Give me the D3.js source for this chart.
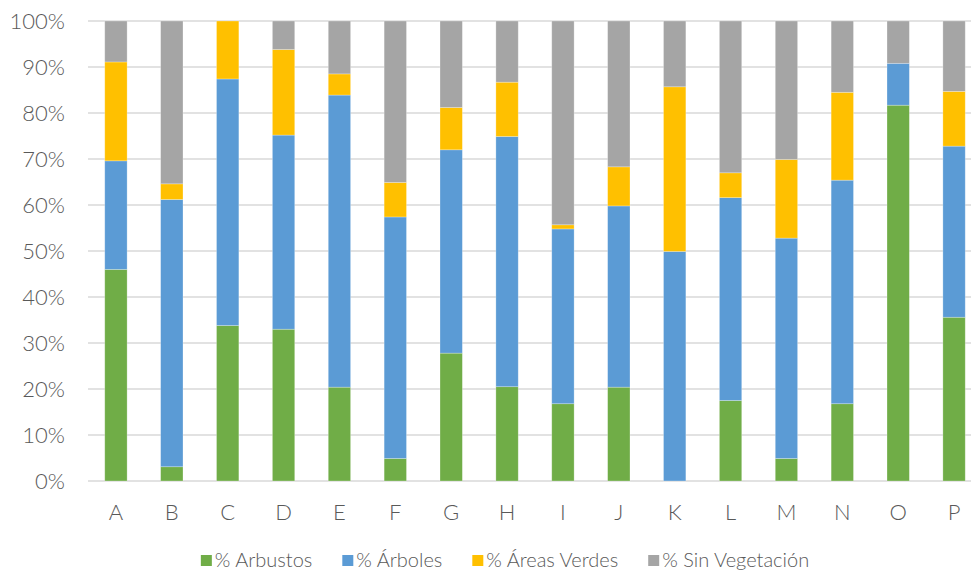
<!DOCTYPE html>
<html>
<head>
<meta charset="utf-8">
<script src="https://cdn.jsdelivr.net/npm/d3@7"></script>
<style>
  body { margin: 0; background: #fff; }
  svg { display: block; font-family: Lato, "Open Sans", sans-serif; font-weight: 300; }
</style>
</head>
<body>
<svg id="chart" width="971" height="574"></svg>
<script>
const categories = ['A', 'B', 'C', 'D', 'E', 'F', 'G', 'H', 'I', 'J', 'K', 'L', 'M', 'N', 'O', 'P'];
const seriesNames = ['% Arbustos', '% Árboles', '% Áreas Verdes', '% Sin Vegetación'];
const colors = ['#70AD47', '#5B9BD5', '#FFC000', '#A5A5A5'];

const arbustos = [46.0, 3.1, 33.8, 33.0, 20.4, 4.9, 27.8, 20.5, 16.8, 20.4, 0.0, 17.5, 4.9, 16.8, 81.7, 35.6];
const arboles = [23.6, 58.1, 53.6, 42.2, 63.5, 52.5, 44.2, 54.4, 38.0, 39.4, 49.9, 44.1, 47.9, 48.6, 9.1, 37.2];
const areasVerdes = [21.5, 3.4, 12.6, 18.6, 4.6, 7.5, 9.2, 11.8, 0.9, 8.5, 35.8, 5.4, 17.1, 19.1, 0.0, 11.9];
const sinVegetacion = [8.9, 35.4, 0.0, 6.2, 11.5, 35.1, 18.8, 13.3, 44.3, 31.7, 14.3, 33.0, 30.1, 15.5, 9.2, 15.3];

const yTicks = [0, 0.1, 0.2, 0.3, 0.4, 0.5, 0.6, 0.7, 0.8, 0.9, 1];

const rows = categories.map((c, i) => {
  const total = arbustos[i] + arboles[i] + areasVerdes[i] + sinVegetacion[i];
  return {
    cat: c,
    [seriesNames[0]]: arbustos[i] / total,
    [seriesNames[1]]: arboles[i] / total,
    [seriesNames[2]]: areasVerdes[i] / total,
    [seriesNames[3]]: sinVegetacion[i] / total,
  };
});

const svg = d3.select('#chart');
const margin = { left: 88, right: -11, top: 21, bottom: 93 };
const width = 971, height = 574;

const x = d3.scaleBand()
  .domain(categories)
  .range([margin.left, width - margin.right])
  .paddingInner(0.6)
  .paddingOuter(0.3);

const y = d3.scaleLinear()
  .domain([0, 1])
  .range([height - margin.bottom, margin.top]);

// gridlines
svg.append('g')
  .selectAll('line')
  .data(yTicks)
  .join('line')
  .attr('x1', margin.left)
  .attr('x2', width - margin.right)
  .attr('y1', (d) => y(d))
  .attr('y2', (d) => y(d))
  .attr('stroke', '#D9D9D9')
  .attr('stroke-width', 1.5);

// y labels
svg.append('g')
  .selectAll('text')
  .data(yTicks)
  .join('text')
  .attr('x', 65)
  .attr('y', (d) => y(d))
  .attr('dy', '0.36em')
  .attr('text-anchor', 'end')
  .attr('fill', '#595959')
  .attr('font-size', 22)
  .text(d3.format('.0%'));

const stack = d3.stack().keys(seriesNames);
const layers = stack(rows);

svg.append('g')
  .selectAll('g')
  .data(layers)
  .join('g')
  .attr('fill', (d, i) => colors[i])
  .selectAll('rect')
  .data((d) => d)
  .join('rect')
  .attr('x', (d) => x(d.data.cat))
  .attr('width', x.bandwidth())
  .attr('y', (d) => y(d[1]))
  .attr('height', (d) => y(d[0]) - y(d[1]))
  .attr('stroke', '#fff')
  .attr('stroke-opacity', 0.35)
  .attr('stroke-width', 0.75);

// x labels
svg.append('g')
  .selectAll('text')
  .data(categories)
  .join('text')
  .attr('x', (d) => x(d) + x.bandwidth() / 2)
  .attr('y', 520)
  .attr('text-anchor', 'middle')
  .attr('fill', '#595959')
  .attr('font-size', 22)
  .text((d) => d);

// legend
const legend = svg.append('g');
const items = legend.selectAll('g')
  .data(seriesNames)
  .join('g');
items.append('rect')
  .attr('width', 11)
  .attr('height', 11)
  .attr('y', 555)
  .attr('fill', (d, i) => colors[i]);
items.append('text')
  .attr('x', 14)
  .attr('y', 567)
  .attr('fill', '#595959')
  .attr('font-size', 20)
  .text((d) => d);

const widths = [];
items.each(function () {
  widths.push(14 + this.querySelector('text').getComputedTextLength());
});
const gap = 30;
const total = d3.sum(widths) + gap * (widths.length - 1);
let cursor = 505 - total / 2;
items.attr('transform', (d, i) => {
  const t = `translate(${cursor},0)`;
  cursor += widths[i] + gap;
  return t;
});
</script>
</body>
</html>
